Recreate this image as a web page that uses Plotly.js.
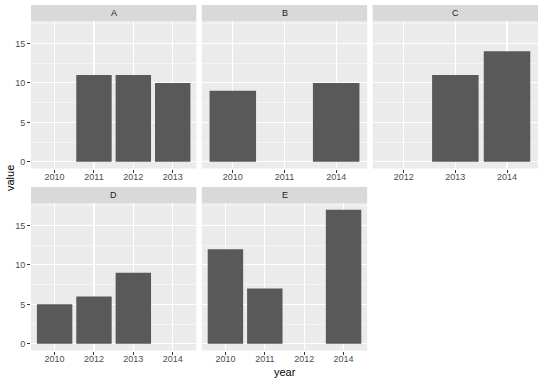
<!DOCTYPE html>
<html>
<head>
<meta charset="utf-8">
<script src="https://cdn.plot.ly/plotly-3.0.1.min.js"></script>
<style>html,body{margin:0;padding:0;background:#fff}#chart{width:540px;height:381px}</style>
</head>
<body>
<div id="chart"></div>
<script>
// Data
const panelNames = ['A', 'B', 'C', 'D', 'E'];
const yearsA = ['2010', '2011', '2012', '2013'];
const valuesA = [0, 11, 11, 10];
const yearsB = ['2010', '2011', '2014'];
const valuesB = [9, 0, 10];
const yearsC = ['2012', '2013', '2014'];
const valuesC = [0, 11, 14];
const yearsD = ['2010', '2012', '2013', '2014'];
const valuesD = [5, 6, 9, 0];
const yearsE = ['2010', '2011', '2012', '2014'];
const valuesE = [12, 7, 0, 17];
const yTickVals = [0, 5, 10, 15];
const yTickText = ['0', '5', '10', '15'];

const panelYears = [yearsA, yearsB, yearsC, yearsD, yearsE];
const panelValues = [valuesA, valuesB, valuesC, valuesD, valuesE];

const W = 540, H = 381;
const cols = [[31, 196.3], [201.8, 367.2], [372.7, 538]];
const rows = [{plot: [21, 168.5], strip: [5, 21]}, {plot: [203, 350.5], strip: [187, 203]}];
const fx = p => p / W;
const fy = p => 1 - p / H;
const font = 'Liberation Sans, Arial, sans-serif';

const traces = [];
const layout = {
  width: W, height: H,
  margin: {l: 0, r: 0, t: 0, b: 0},
  paper_bgcolor: '#FFFFFF',
  plot_bgcolor: '#EBEBEB',
  showlegend: false,
  bargap: 0.1,
  font: {family: font, size: 9, color: '#4D4D4D'},
  shapes: [],
  annotations: []
};

panelNames.forEach((name, i) => {
  const r = i < 3 ? 0 : 1;
  const c = i < 3 ? i : i - 3;
  const suffix = i === 0 ? '' : String(i + 1);
  const xa = 'x' + suffix, ya = 'y' + suffix;
  const n = panelYears[i].length;
  traces.push({
    type: 'bar', x: panelYears[i], y: panelValues[i],
    xaxis: xa, yaxis: ya,
    marker: {color: '#595959', line: {width: 0}},
    hoverinfo: 'x+y'
  });
  layout['xaxis' + suffix] = {
    domain: [fx(cols[c][0]), fx(cols[c][1])],
    anchor: ya, type: 'category',
    range: [-0.6, n - 0.4],
    showgrid: true, gridcolor: '#FFFFFF', gridwidth: 1.1,
    zeroline: false, showline: false,
    ticks: 'outside', ticklen: 3, tickwidth: 1, tickcolor: '#333333',
    ticklabelstandoff: -3,
    tickfont: {family: font, size: 9, color: '#4D4D4D'},
    fixedrange: true
  };
  const showY = (c === 0);
  layout['yaxis' + suffix] = {
    domain: [fy(rows[r].plot[1]), fy(rows[r].plot[0])],
    anchor: xa,
    range: [-0.85, 17.85],
    tickvals: yTickVals, ticktext: yTickText,
    showticklabels: showY,
    ticks: showY ? 'outside' : '', ticklen: 3, tickwidth: 1, tickcolor: '#333333',
    tickfont: {family: font, size: 9, color: '#4D4D4D'},
    showgrid: true, gridcolor: '#FFFFFF', gridwidth: 1.1,
    minor: {tickvals: [2.5, 7.5, 12.5, 17.5], showgrid: true, gridcolor: '#FFFFFF', gridwidth: 0.5, ticks: ''},
    zeroline: false, showline: false,
    fixedrange: true
  };
  // strip
  layout.shapes.push({
    type: 'rect', xref: 'paper', yref: 'paper',
    x0: fx(cols[c][0]), x1: fx(cols[c][1]),
    y0: fy(rows[r].strip[1]), y1: fy(rows[r].strip[0]),
    fillcolor: '#D9D9D9', line: {width: 0}, layer: 'below'
  });
  layout.annotations.push({
    xref: 'paper', yref: 'paper',
    x: fx((cols[c][0] + cols[c][1]) / 2), y: fy((rows[r].strip[0] + rows[r].strip[1]) / 2),
    text: name, showarrow: false, xanchor: 'center', yanchor: 'middle',
    font: {family: font, size: 9, color: '#1A1A1A'}
  });
});

// axis titles
layout.annotations.push({
  xref: 'paper', yref: 'paper', x: fx((31 + 538) / 2), y: fy(372),
  text: 'year', showarrow: false, xanchor: 'center', yanchor: 'middle',
  font: {family: font, size: 11, color: '#000000'}
});
layout.annotations.push({
  xref: 'paper', yref: 'paper', x: fx(10), y: fy(178),
  text: 'value', showarrow: false, xanchor: 'center', yanchor: 'middle', textangle: -90,
  font: {family: font, size: 11, color: '#000000'}
});

Plotly.newPlot('chart', traces, layout, {displayModeBar: false, staticPlot: true});
</script>
</body>
</html>
